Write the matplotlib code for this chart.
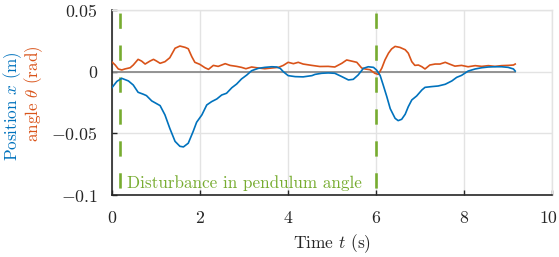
# Imports

import numpy as np
import matplotlib
matplotlib.use('Agg')
import matplotlib.pyplot as plt
from matplotlib.ticker import FixedLocator, FixedFormatter
from matplotlib.transforms import ScaledTranslation

# Package Parameter Alterations

plt.rcParams['font.family'] = 'cmr10'
plt.rcParams['mathtext.fontset'] = 'cm'
plt.rcParams['axes.unicode_minus'] = False
plt.rcParams['lines.scale_dashes'] = False

# Data

t_pos = [0.00, 0.12, 0.23, 0.38, 0.49, 0.60, 0.72, 0.79, 0.91, 1.02, 1.10, 1.21,
         1.32, 1.44, 1.55, 1.63, 1.74, 1.85, 1.93, 2.05, 2.16, 2.27, 2.39, 2.50,
         2.61, 2.73, 2.84, 2.95, 3.07, 3.18, 3.33, 3.48, 3.64, 3.75, 3.83, 3.90,
         4.01, 4.17, 4.35, 4.55, 4.62, 4.77, 4.92, 5.07, 5.23, 5.38, 5.49, 5.60,
         5.72, 5.83, 5.95, 6.02, 6.10, 6.17, 6.25, 6.33, 6.44, 6.51, 6.59, 6.67,
         6.74, 6.82, 6.93, 7.05, 7.12, 7.27, 7.42, 7.58, 7.73, 7.84, 7.95, 8.10,
         8.26, 8.41, 8.56, 8.71, 8.86, 9.01, 9.13, 9.17]
position = [-0.0132, -0.0078, -0.0054, -0.0075, -0.0108, -0.0167, -0.0183, -0.0194,
            -0.0237, -0.0259, -0.0275, -0.0350, -0.0459, -0.0565, -0.0605, -0.0610,
            -0.0580, -0.0486, -0.0410, -0.0350, -0.0270, -0.0243, -0.0221, -0.0189,
            -0.0175, -0.0130, -0.0100, -0.0059, -0.0027, 0.0008, 0.0027, 0.0035,
            0.0040, 0.0038, 0.0027, 0.0000, -0.0032, -0.0040, -0.0042, -0.0032,
            -0.0022, -0.0013, -0.0010, -0.0013, -0.0040, -0.0067, -0.0062, -0.0027,
            0.0027, 0.0040, 0.0035, 0.0013, -0.0030, -0.0108, -0.0200, -0.0300,
            -0.0378, -0.0397, -0.0386, -0.0345, -0.0284, -0.0229, -0.0197, -0.0148,
            -0.0127, -0.0121, -0.0116, -0.0102, -0.0075, -0.0046, -0.0030, 0.0005,
            0.0022, 0.0032, 0.0038, 0.0040, 0.0040, 0.0035, 0.0022, 0.0005]

t_ang = [0.00, 0.08, 0.15, 0.23, 0.30, 0.42, 0.49, 0.60, 0.68, 0.76, 0.87, 0.95,
         1.02, 1.10, 1.21, 1.32, 1.44, 1.55, 1.67, 1.74, 1.82, 1.89, 2.00, 2.12,
         2.20, 2.31, 2.42, 2.58, 2.69, 2.84, 2.95, 3.05, 3.18, 3.33, 3.48, 3.64,
         3.79, 3.90, 4.01, 4.13, 4.24, 4.35, 4.55, 4.73, 4.92, 5.07, 5.23, 5.34,
         5.45, 5.57, 5.68, 5.76, 5.87, 5.98, 6.06, 6.14, 6.21, 6.29, 6.36, 6.44,
         6.55, 6.67, 6.74, 6.82, 6.89, 6.97, 7.05, 7.12, 7.23, 7.35, 7.46, 7.58,
         7.69, 7.80, 7.95, 8.10, 8.26, 8.41, 8.56, 8.71, 8.86, 9.01, 9.13, 9.17]
angle = [0.0081, 0.0054, 0.0022, 0.0014, 0.0022, 0.0032, 0.0054, 0.0100, 0.0086,
         0.0062, 0.0086, 0.0100, 0.0086, 0.0068, 0.0081, 0.0113, 0.0190, 0.0208,
         0.0197, 0.0186, 0.0122, 0.0076, 0.0060, 0.0032, 0.0019, 0.0051, 0.0043,
         0.0065, 0.0051, 0.0043, 0.0035, 0.0024, 0.0038, 0.0030, 0.0024, 0.0030,
         0.0035, 0.0051, 0.0076, 0.0065, 0.0076, 0.0062, 0.0051, 0.0042, 0.0043,
         0.0038, 0.0068, 0.0095, 0.0086, 0.0076, 0.0030, 0.0022, 0.0016, -0.0013,
         -0.0022, 0.0030, 0.0095, 0.0150, 0.0184, 0.0205, 0.0197, 0.0178, 0.0150,
         0.0081, 0.0051, 0.0054, 0.0040, 0.0022, 0.0054, 0.0062, 0.0062, 0.0076,
         0.0060, 0.0045, 0.0051, 0.0040, 0.0049, 0.0043, 0.0049, 0.0043, 0.0049,
         0.0051, 0.0054, 0.0062]

disturbance_times = [0.2, 6.0]
x_ticks = [0, 2, 4, 6, 8, 10]
y_ticks = [0.05, 0, -0.05, -0.1]
y_tick_labels = [r'$0.05$', r'$0$', r'$-0.05$', r'$-0.1$']

# Colours

blue = '#0072BD'
orange = '#D95319'
green = '#77AC30'
grid_gray = '#e3e3e3'
dark = '#262626'

# Plot

fig = plt.figure(figsize=(5.59, 2.57), dpi=100)
ax = fig.add_axes([0.1998, 0.2412, 0.7872, 0.7198])

ax.set_xlim(0, 10)
ax.set_ylim(-0.1, 0.05)
ax.xaxis.set_major_locator(FixedLocator(x_ticks))
ax.yaxis.set_major_locator(FixedLocator(y_ticks))
ax.yaxis.set_major_formatter(FixedFormatter(y_tick_labels))
ax.grid(True, color=grid_gray, linewidth=1.0)
ax.set_axisbelow(True)

ax.plot([t_pos[0], t_pos[-1]], [0, 0], color='#8c8c8c', linewidth=1.3, zorder=2)
for td in disturbance_times:
	ax.plot([td, td], [0.05, -0.1], color=green, linewidth=1.9,
		linestyle=(20.8, (11, 12)), zorder=3)
ax.plot(t_ang, angle, color=orange, linewidth=1.2, zorder=4)
ax.plot(t_pos, position, color=blue, linewidth=1.2, zorder=5)

ax.text(0.35, -0.0942, 'Disturbance in pendulum angle', color=green,
	fontsize=12.3, ha='left', va='baseline')

for side in ['top', 'right']:
	ax.spines[side].set_color(grid_gray)
	ax.spines[side].set_linewidth(1.0)
for side in ['left', 'bottom']:
	ax.spines[side].set_color(dark)
	ax.spines[side].set_linewidth(1.2)
ax.tick_params(direction='in', length=3.5, width=1.0, colors=dark,
	labelsize=12.8, labelcolor=dark)
ax.tick_params(axis='x', pad=11)
ax.tick_params(axis='y', pad=10)

# nudge the "10" label left so it stays inside the canvas
last_label = ax.xaxis.get_major_ticks()[-1].label1
last_label.set_transform(last_label.get_transform() +
	ScaledTranslation(-0.035, 0, fig.dpi_scale_trans))

ax.set_xlabel(r'Time $t$ (s)', fontsize=12.5, color=dark, labelpad=5)
fig.text(13 / 559, 1 - 106 / 257, r'Position $x$ (m)', color=blue, fontsize=12.3,
	rotation=90, ha='center', va='center')
fig.text(34 / 559, 1 - 94 / 257, r'angle $\theta$ (rad)', color=orange, fontsize=12.3,
	rotation=90, ha='center', va='center')

fig.savefig('out.png', dpi=100)
